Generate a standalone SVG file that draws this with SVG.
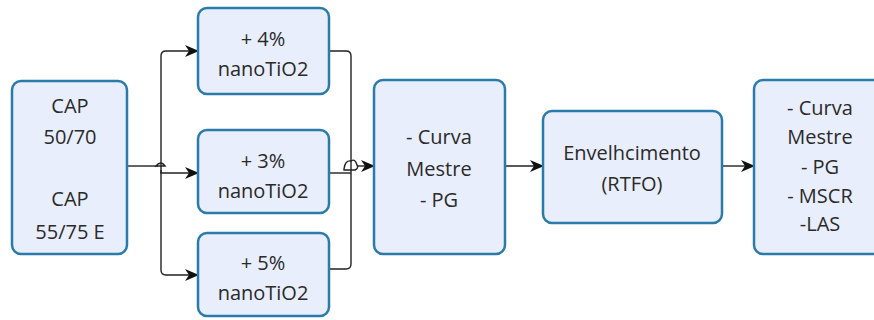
<svg xmlns="http://www.w3.org/2000/svg" width="874" height="320" viewBox="0 0 874 320">
<style>
.box{fill:#E9EEFC;stroke:#2B7BAA;stroke-width:2.5}
.t{font-family:"Open Sans","DejaVu Sans",sans-serif;font-size:20px;fill:#2a2a2a;text-anchor:middle;dominant-baseline:central}
.c{fill:none;stroke:#222;stroke-width:1.4}
.a{marker-end:url(#arr)}
</style>
<defs>
<marker id="arr" markerWidth="14" markerHeight="12" refX="13" refY="6" orient="auto" markerUnits="userSpaceOnUse">
<path d="M0,0 L14,6 L0,12 L4,6 Z" fill="#111"/>
</marker>
</defs>
<rect width="874" height="320" fill="#fff"/>
<g id="connectors">
<path class="c" d="M127,166 H158"/>
<path class="c a" d="M161,170 V56 Q161,51 166,51 H198"/>
<path class="c a" d="M161,170 V173 H198"/>
<path class="c a" d="M161,170 V270 Q161,275 166,275 H198"/>
<path class="c" d="M156,166 Q161,160 165,166 Z" fill="#fff"/>
<path class="c" d="M329,51 H346 Q351,51 351,56 V264 Q351,269 346,269 H329"/>
<path class="c" d="M329,173 H351"/>
<path class="c" d="M344,169 Q345,160 351,161 Q355,158 357,165 Q359,168 355,170 H344 Z" fill="#fff"/>
<path class="c a" d="M358,166 H374"/>
<path class="c a" d="M505,166 H543"/>
<path class="c a" d="M722,166 H754"/>
</g>
<g id="cap">
<rect class="box" x="12" y="81" width="115" height="173" rx="9"/>
<text class="t" x="70" y="105">CAP</text>
<text class="t" x="70" y="136">50/70</text>
<text class="t" x="70" y="198">CAP</text>
<text class="t" x="70" y="231">55/75 E</text>
</g>
<g id="n4">
<rect class="box" x="198" y="8" width="131" height="86" rx="9"/>
<text class="t" x="263" y="38">+ 4%</text>
<text class="t" x="263" y="68">nanoTiO2</text>
</g>
<g id="n3">
<rect class="box" x="198" y="130" width="131" height="83" rx="9"/>
<text class="t" x="263" y="160">+ 3%</text>
<text class="t" x="263" y="190">nanoTiO2</text>
</g>
<g id="n5">
<rect class="box" x="198" y="233" width="131" height="83" rx="9"/>
<text class="t" x="263" y="262">+ 5%</text>
<text class="t" x="263" y="292">nanoTiO2</text>
</g>
<g id="curva">
<rect class="box" x="374" y="80" width="131" height="174" rx="9"/>
<text class="t" x="439" y="136">- Curva</text>
<text class="t" x="439" y="168">Mestre</text>
<text class="t" x="439" y="199">- PG</text>
</g>
<g id="env">
<rect class="box" x="543" y="111" width="179" height="112" rx="9"/>
<text class="t" x="632" y="152">Envelhcimento</text>
<text class="t" x="632" y="183">(RTFO)</text>
</g>
<g id="final">
<rect class="box" x="754" y="80" width="130" height="174" rx="9"/>
<text class="t" x="820" y="107">- Curva</text>
<text class="t" x="820" y="136">Mestre</text>
<text class="t" x="820" y="166">- PG</text>
<text class="t" x="820" y="195">- MSCR</text>
<text class="t" x="820" y="223">-LAS</text>
</g>
</svg>
